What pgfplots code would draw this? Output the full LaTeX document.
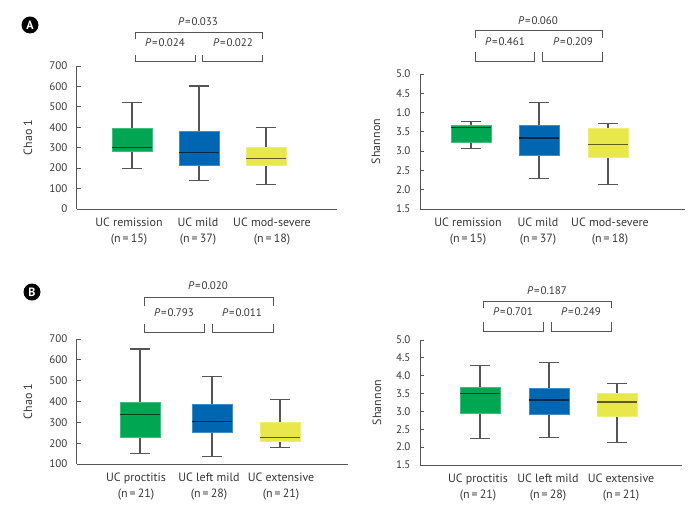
\documentclass[border=0pt]{standalone}
\usepackage{fontspec}
\setmainfont{PT Sans}
\usepackage{pgfplots}
\pgfplotsset{compat=1.18}
\usepgfplotslibrary{statistics}
\definecolor{cgreen}{RGB}{0,166,81}
\definecolor{cblue}{RGB}{0,102,178}
\definecolor{cyellow}{RGB}{232,232,74}
\definecolor{cline}{RGB}{85,85,85}
\definecolor{ctext}{RGB}{55,55,55}
\tikzset{
  br/.style={draw=cline, line width=1pt},
  tk/.style={draw=cline, line width=0.8pt},
  pl/.style={font=\fontsize{11}{13}\selectfont, text=ctext},
}
\newcommand{\tk}[3]{\draw[tk] (axis cs:#1,#3) -- (axis cs:#2,#3);}
\pgfplotsset{
  panel/.style={
    scale only axis, clip=false,
    axis x line*=bottom, axis y line*=left,
    x axis line style={draw=cline, line width=1pt},
    y axis line style={draw=cline, line width=1pt},
    ytick align=inside, major tick length=4pt,
    ytick style={draw=cline, line width=0.8pt},
    xtick style={draw opacity=0},
    tick label style={font=\fontsize{11}{13}\selectfont, text=ctext},
    yticklabel style={xshift=-6pt},
    xticklabel style={align=center, font=\fontsize{12}{16}\selectfont, text=ctext, yshift=-5pt},
    ylabel style={at={(axis description cs:0,0.5)}, anchor=center, font=\fontsize{12}{14}\selectfont, text=ctext},
  },
  bx/.style 2 args={draw=cline, line width=1.1pt,
    boxplot/draw direction=y,
    boxplot/box extend=4, boxplot/whisker extend=2,
    boxplot/every box/.style={fill=#1, draw=#1!75!white, line width=0.8pt},
    boxplot/every whisker/.style={draw=cline, line width=1.1pt},
    boxplot/every median/.style={draw=#1!40!black, line width=1.4pt},
    boxplot prepared={#2}},
}
\newcommand{\Pv}[1]{\textit{P}\hspace{0.8pt}=\hspace{0.8pt}#1}
\begin{document}
\begin{tikzpicture}
\useasboundingbox (0,0) rectangle (699pt,-516pt);
% ---------- A left
\begin{axis}[panel, at={(77pt,-209pt)}, anchor=south west,
  width=260pt, height=143pt, xmin=7.7, xmax=33.7, ymin=0, ymax=700,
  ytick={0,100,200,300,400,500,600,700},
  yticklabels={0,100,200,300,400,500,600,700},
  xtick={12.9,19.8,27.2},
  xticklabels={{UC remission\\(n\,=\,15)},{UC mild\\(n\,=\,37)},{UC mod-severe\\(n\,=\,18)}},
  ylabel={Chao 1}, ylabel style={yshift=49pt}]
\addplot[bx={cgreen}{draw position=13.2, lower whisker=198, lower quartile=281, median=300, upper quartile=393, upper whisker=522}] coordinates {};
\addplot[bx={cblue}{draw position=19.9, lower whisker=138, lower quartile=214, median=276, upper quartile=380, upper whisker=602}] coordinates {};
\addplot[bx={cyellow}{draw position=26.6, lower whisker=122, lower quartile=213, median=248, upper quartile=302, upper whisker=400}] coordinates {};
\draw[br] (axis cs:7.7,0) -- (axis cs:7.7,700);
\tk{7.7}{8.1}{100}\tk{7.7}{8.1}{200}\tk{7.7}{8.1}{300}\tk{7.7}{8.1}{400}\tk{7.7}{8.1}{500}\tk{7.7}{8.1}{600}\tk{7.7}{8.1}{700}
\draw[br] (axis cs:13.5,832) -- (axis cs:13.5,866) -- (axis cs:26.2,866) -- (axis cs:26.2,832);
\draw[br] (axis cs:13.5,754) -- (axis cs:13.5,720) -- (axis cs:19.5,720) -- (axis cs:19.5,754);
\draw[br] (axis cs:20.2,754) -- (axis cs:20.2,720) -- (axis cs:26.2,720) -- (axis cs:26.2,754);
\node[pl] at (axis cs:19.8,915) {\Pv{0.033}};
\node[pl] at (axis cs:16.5,812) {\Pv{0.024}};
\node[pl] at (axis cs:23.3,812) {\Pv{0.022}};
\end{axis}
% ---------- A right
\begin{axis}[panel, at={(420pt,-209pt)}, anchor=south west,
  width=265pt, height=135pt, xmin=42, xmax=68.5, ymin=1.5, ymax=5,
  ytick={1.5,2,2.5,3,3.5,4,4.5,5},
  yticklabels={1.5,2.0,2.5,3.0,3.5,1.0,4.5,5.0},
  xtick={46.8,53.8,61.0},
  xticklabels={{UC remission\\(n\,=\,15)},{UC mild\\(n\,=\,37)},{UC mod-severe\\(n\,=\,18)}},
  ylabel={Shannon}, ylabel style={yshift=44pt}]
\addplot[bx={cgreen}{draw position=47.1, lower whisker=3.06, lower quartile=3.23, median=3.62, upper quartile=3.67, upper whisker=3.76}] coordinates {};
\addplot[bx={cblue}{draw position=53.9, lower whisker=2.30, lower quartile=2.89, median=3.34, upper quartile=3.66, upper whisker=4.27}] coordinates {};
\addplot[bx={cyellow}{draw position=60.8, lower whisker=2.13, lower quartile=2.84, median=3.17, upper quartile=3.58, upper whisker=3.72}] coordinates {};
\draw[br] (axis cs:42,1.5) -- (axis cs:42,5);
\tk{42}{42.4}{2}\tk{42}{42.4}{2.5}\tk{42}{42.4}{3}\tk{42}{42.4}{3.5}\tk{42}{42.4}{4}\tk{42}{42.4}{4.5}\tk{42}{42.4}{5}
\draw[br] (axis cs:47.5,5.933) -- (axis cs:47.5,6.115) -- (axis cs:60.2,6.115) -- (axis cs:60.2,5.933);
\draw[br] (axis cs:47.5,5.570) -- (axis cs:47.5,5.337) -- (axis cs:53.4,5.337) -- (axis cs:53.4,5.570);
\draw[br] (axis cs:54.2,5.570) -- (axis cs:54.2,5.337) -- (axis cs:60.2,5.337) -- (axis cs:60.2,5.570);
\node[pl] at (axis cs:53.8,6.374) {\Pv{0.060}};
\node[pl] at (axis cs:50.5,5.83) {\Pv{0.461}};
\node[pl] at (axis cs:57.3,5.83) {\Pv{0.209}};
\end{axis}
% ---------- B left
\begin{axis}[panel, at={(77pt,-464pt)}, anchor=south west,
  width=271pt, height=125pt, xmin=7.7, xmax=34.8, ymin=100, ymax=700,
  ytick={100,200,300,400,500,600,700},
  yticklabels={100,200,300,400,500,600,700},
  xtick={13.6,20.9,28.1},
  xticklabels={{UC proctitis\\(n\,=\,21)},{UC left mild\\(n\,=\,28)},{UC extensive\\(n\,=\,21)}},
  ylabel={Chao 1}, ylabel style={yshift=49pt}]
\addplot[bx={cgreen}{draw position=14.0, lower whisker=151, lower quartile=228, median=339, upper quartile=397, upper whisker=652}] coordinates {};
\addplot[bx={cblue}{draw position=21.2, lower whisker=135, lower quartile=252, median=304, upper quartile=384, upper whisker=520}] coordinates {};
\addplot[bx={cyellow}{draw position=28.0, lower whisker=180, lower quartile=207, median=227, upper quartile=300, upper whisker=408}] coordinates {};
\draw[br] (axis cs:7.7,100) -- (axis cs:7.7,700);
\tk{7.7}{8.1}{200}\tk{7.7}{8.1}{300}\tk{7.7}{8.1}{400}\tk{7.7}{8.1}{500}\tk{7.7}{8.1}{600}\tk{7.7}{8.1}{700}
\draw[br] (axis cs:14.4,858) -- (axis cs:14.4,901.6) -- (axis cs:27.3,901.6) -- (axis cs:27.3,858);
\draw[br] (axis cs:14.4,772) -- (axis cs:14.4,729) -- (axis cs:20.4,729) -- (axis cs:20.4,772);
\draw[br] (axis cs:21.2,772) -- (axis cs:21.2,729) -- (axis cs:27.3,729) -- (axis cs:27.3,772);
\node[pl] at (axis cs:20.8,954.5) {\Pv{0.020}};
\node[pl] at (axis cs:17.4,825) {\Pv{0.793}};
\node[pl] at (axis cs:24.2,825) {\Pv{0.011}};
\end{axis}
% ---------- B right
\begin{axis}[panel, at={(420pt,-465pt)}, anchor=south west,
  width=262pt, height=125pt, xmin=42, xmax=68.2, ymin=1.5, ymax=5,
  ytick={1.5,2,2.5,3,3.5,4,4.5,5},
  yticklabels={1.5,2.0,2.5,3.0,3.5,4.0,4.5,5.0},
  xtick={47.8,54.8,62.1},
  xticklabels={{UC proctitis\\(n\,=\,21)},{UC left mild\\(n\,=\,28)},{UC extensive\\(n\,=\,21)}},
  ylabel={Shannon}, ylabel style={yshift=43pt}]
\addplot[bx={cgreen}{draw position=48.0, lower whisker=2.25, lower quartile=2.94, median=3.51, upper quartile=3.68, upper whisker=4.29}] coordinates {};
\addplot[bx={cblue}{draw position=54.9, lower whisker=2.28, lower quartile=2.93, median=3.32, upper quartile=3.65, upper whisker=4.38}] coordinates {};
\addplot[bx={cyellow}{draw position=61.7, lower whisker=2.12, lower quartile=2.85, median=3.26, upper quartile=3.51, upper whisker=3.77}] coordinates {};
\draw[br] (axis cs:42,1.5) -- (axis cs:42,5);
\tk{42}{42.4}{2}\tk{42}{42.4}{2.5}\tk{42}{42.4}{3}\tk{42}{42.4}{3.5}\tk{42}{42.4}{4}\tk{42}{42.4}{4.5}\tk{42}{42.4}{5}
\draw[br] (axis cs:48.3,5.896) -- (axis cs:48.3,6.092) -- (axis cs:61.1,6.092) -- (axis cs:61.1,5.896);
\draw[br] (axis cs:48.3,5.504) -- (axis cs:48.3,5.252) -- (axis cs:54.3,5.252) -- (axis cs:54.3,5.504);
\draw[br] (axis cs:55.1,5.504) -- (axis cs:55.1,5.252) -- (axis cs:61.1,5.252) -- (axis cs:61.1,5.504);
\node[pl] at (axis cs:54.7,6.373) {\Pv{0.187}};
\node[pl] at (axis cs:51.3,5.784) {\Pv{0.701}};
\node[pl] at (axis cs:58.1,5.784) {\Pv{0.249}};
\end{axis}
% panel letters
\node[circle, fill=black, inner sep=0pt, minimum size=17pt, text=white, font=\bfseries\fontsize{12}{12}\selectfont] at (30pt,-25pt) {A};
\node[circle, fill=black, inner sep=0pt, minimum size=17pt, text=white, font=\bfseries\fontsize{12}{12}\selectfont] at (32pt,-292pt) {B};
\end{tikzpicture}
\end{document}
